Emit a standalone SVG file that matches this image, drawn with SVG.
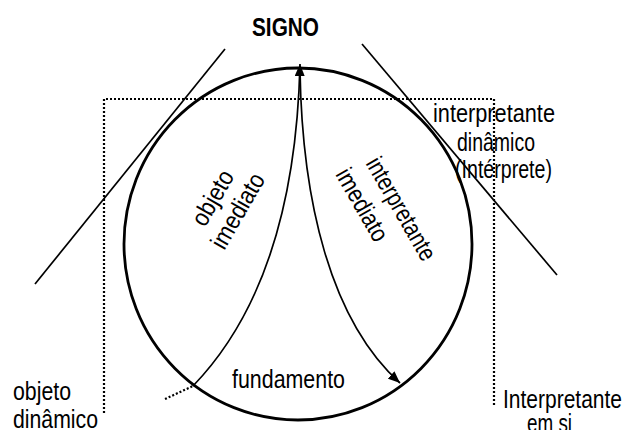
<svg xmlns="http://www.w3.org/2000/svg" width="627" height="430" viewBox="0 0 627 430">
<style>
.t{font-family:"Liberation Sans Narrow","Liberation Sans",Arial,sans-serif;font-size:25px;fill:#000}
.b{font-weight:bold}
.ln{fill:none;stroke:#000;stroke-width:1.7}
.dot{fill:none;stroke:#000;stroke-width:2.2;stroke-dasharray:2 2}
</style>
<defs>
<marker id="ah" viewBox="0 0 12 10" refX="12" refY="5" markerUnits="userSpaceOnUse" markerWidth="12" markerHeight="10" orient="auto">
<path d="M0,0 L12,5 L0,10 Z" fill="#000"/>
</marker>
</defs>
<rect width="627" height="430" fill="#fff"/>
<g id="frame">
<path class="dot" d="M104,413 L104,99 L494,99 L494,407"/>
</g>
<g id="signo">
<ellipse cx="298" cy="244" rx="174" ry="176" fill="none" stroke="#000" stroke-width="2.8"/>
<text class="t b" x="252" y="36" textLength="67" lengthAdjust="spacingAndGlyphs">SIGNO</text>
</g>
<g id="tangents">
<line class="ln" x1="35" y1="284" x2="225" y2="49"/>
<line class="ln" x1="362" y1="44" x2="557" y2="275"/>
</g>
<g id="connectors">
<path class="ln" d="M193,386 C250,327 296,230 300,64" marker-end="url(#ah)"/>
<path class="ln" d="M300,70 C302,200 330,320 400,383" marker-end="url(#ah)"/>
<path class="dot" d="M165,399 L193,386"/>
</g>
<g id="objeto-imediato">
<text class="t" text-anchor="middle" transform="translate(220,202) rotate(-60)" textLength="60" lengthAdjust="spacingAndGlyphs">objeto</text>
<text class="t" text-anchor="middle" transform="translate(245,215) rotate(-60)" textLength="83" lengthAdjust="spacingAndGlyphs">imediato</text>
</g>
<g id="interpretante-imediato">
<text class="t" text-anchor="middle" transform="translate(394,213) rotate(60)" textLength="115" lengthAdjust="spacingAndGlyphs">interpretante</text>
<text class="t" text-anchor="middle" transform="translate(355,209) rotate(60)" textLength="80" lengthAdjust="spacingAndGlyphs">imediato</text>
</g>
<g id="fundamento">
<text class="t" x="232" y="388" textLength="113" lengthAdjust="spacingAndGlyphs">fundamento</text>
</g>
<g id="interpretante-dinamico">
<text class="t" x="433" y="122" textLength="122" lengthAdjust="spacingAndGlyphs">interpretante</text>
<text class="t" x="457" y="151" textLength="78" lengthAdjust="spacingAndGlyphs">dinâmico</text>
<text class="t" x="455" y="178" textLength="97" lengthAdjust="spacingAndGlyphs">(Intérprete)</text>
</g>
<g id="objeto-dinamico">
<text class="t" x="13" y="400" textLength="58" lengthAdjust="spacingAndGlyphs">objeto</text>
<text class="t" x="13" y="428" textLength="85" lengthAdjust="spacingAndGlyphs">dinâmico</text>
</g>
<g id="interpretante-em-si">
<text class="t" x="503" y="408" textLength="119" lengthAdjust="spacingAndGlyphs">Interpretante</text>
<text class="t" x="527" y="432" textLength="45" lengthAdjust="spacingAndGlyphs">em si</text>
</g>
</svg>
